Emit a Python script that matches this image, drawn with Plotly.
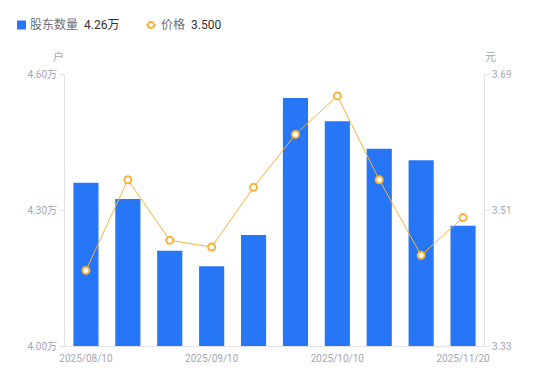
import plotly.graph_objects as go

dates = ["2025/08/10", "2025/08/20", "2025/08/31", "2025/09/10", "2025/09/19",
         "2025/09/30", "2025/10/10", "2025/10/20", "2025/10/31", "2025/11/20"]
holders = [4.360, 4.324, 4.210, 4.176, 4.245, 4.547, 4.496, 4.435, 4.410, 4.265]  # 万户
price = [3.430, 3.550, 3.470, 3.461, 3.540, 3.610, 3.661, 3.550, 3.450, 3.500]    # 元
x_tick_dates = ["2025/08/10", "2025/09/10", "2025/10/10", "2025/11/20"]
left_ticks = [4.00, 4.30, 4.60]
right_ticks = [3.33, 3.51, 3.69]

BLUE = "#2776F6"
ORANGE = "#F7B23B"
GRAY = "#A3A6B4"
AXIS = "#E3E3E6"
FONT = "Roboto, 'Noto Sans CJK SC', sans-serif"

OFF = 8  # default page body margin
PW, PH = 550, 381
W, H = PW - OFF, PH - OFF
# plot area in page pixels: x 65..484, y 74..346
L = 65 - OFF
T = 74 - OFF
R = W - (484 - OFF)
B = H - (346 - OFF)
pw, ph = W - L - R, H - T - B

def px(x):  # page pixel -> paper
    return (x - OFF - L) / pw

def py(y):
    return (T + ph - (y - OFF)) / ph

fig = go.Figure()
fig.add_trace(go.Bar(x=dates, y=holders, marker=dict(color=BLUE, line=dict(width=0)),
                     width=0.6, name="股东数量", yaxis="y"))
fig.add_trace(go.Scatter(x=dates, y=price, mode="lines+markers", name="价格", yaxis="y2",
                         line=dict(color=ORANGE, width=1),
                         marker=dict(symbol="circle", size=7, color="white",
                                     line=dict(color=ORANGE, width=2))))

fig.update_layout(
    width=W, height=H,
    margin=dict(l=L, r=R, t=T, b=B),
    paper_bgcolor="white", plot_bgcolor="white",
    showlegend=False,
    font=dict(family=FONT, size=10, color=GRAY),
    xaxis=dict(type="category", range=[-0.5, len(dates) - 0.5], tickmode="array",
               tickvals=x_tick_dates, ticktext=x_tick_dates, ticklabelstandoff=3,
               showgrid=False, showline=True, linecolor=AXIS, linewidth=1, ticks="",
               tickfont=dict(size=10, color=GRAY), zeroline=False),
    yaxis=dict(range=[left_ticks[0], left_ticks[-1]], tickmode="array", tickvals=left_ticks,
               ticktext=[f"{v:.2f}万" for v in left_ticks], showgrid=False,
               showline=True, linecolor=AXIS, linewidth=1, ticks="outside", ticklen=5,
               tickcolor=AXIS, tickfont=dict(size=10, color=GRAY), zeroline=False),
    yaxis2=dict(range=[right_ticks[0], right_ticks[-1]], tickmode="array", tickvals=right_ticks,
                ticktext=[f"{v:.2f}" for v in right_ticks], overlaying="y", side="right",
                showgrid=False, showline=True, linecolor=AXIS, linewidth=1, ticks="outside",
                ticklen=5, tickcolor=AXIS, tickfont=dict(size=10, color=GRAY), zeroline=False),
)

ann = []
ann.append(dict(text="户", x=px(58), y=py(57), xref="paper", yref="paper", showarrow=False,
                font=dict(size=11, color=GRAY), xanchor="center", yanchor="middle"))
ann.append(dict(text="元", x=px(490), y=py(57), xref="paper", yref="paper", showarrow=False,
                font=dict(size=11, color=GRAY), xanchor="center", yanchor="middle"))
ly = py(25)
ann.append(dict(text="股东数量", x=px(30), y=ly, xref="paper", yref="paper", showarrow=False,
                font=dict(size=12, color="#6E6E78"), xanchor="left", yanchor="middle", xshift=-2))
ann.append(dict(text=f"{holders[-1]:.2f}万", x=px(84), y=ly, xref="paper", yref="paper", showarrow=False,
                font=dict(size=12, color="#333333"), xanchor="left", yanchor="middle", xshift=-2))
ann.append(dict(text="价格", x=px(161), y=ly, xref="paper", yref="paper", showarrow=False,
                font=dict(size=12, color="#6E6E78"), xanchor="left", yanchor="middle", xshift=-2))
ann.append(dict(text=f"{price[-1]:.3f}", x=px(191), y=ly, xref="paper", yref="paper", showarrow=False,
                font=dict(size=12, color="#333333"), xanchor="left", yanchor="middle", xshift=-2))
fig.update_layout(annotations=ann)

shapes = [
    dict(type="rect", xref="paper", yref="paper", x0=px(17), x1=px(26), y0=py(29.5), y1=py(20.5),
         fillcolor=BLUE, line=dict(width=0)),
    dict(type="line", xref="paper", yref="paper", x0=px(146), x1=px(156), y0=ly, y1=ly,
         line=dict(color=ORANGE, width=1.5)),
    dict(type="circle", xref="paper", yref="paper", x0=px(148), x1=px(154), y0=py(28), y1=py(22),
         fillcolor="white", line=dict(color=ORANGE, width=1.8)),
]
fig.update_layout(shapes=shapes)

fig.write_html("out.html")
